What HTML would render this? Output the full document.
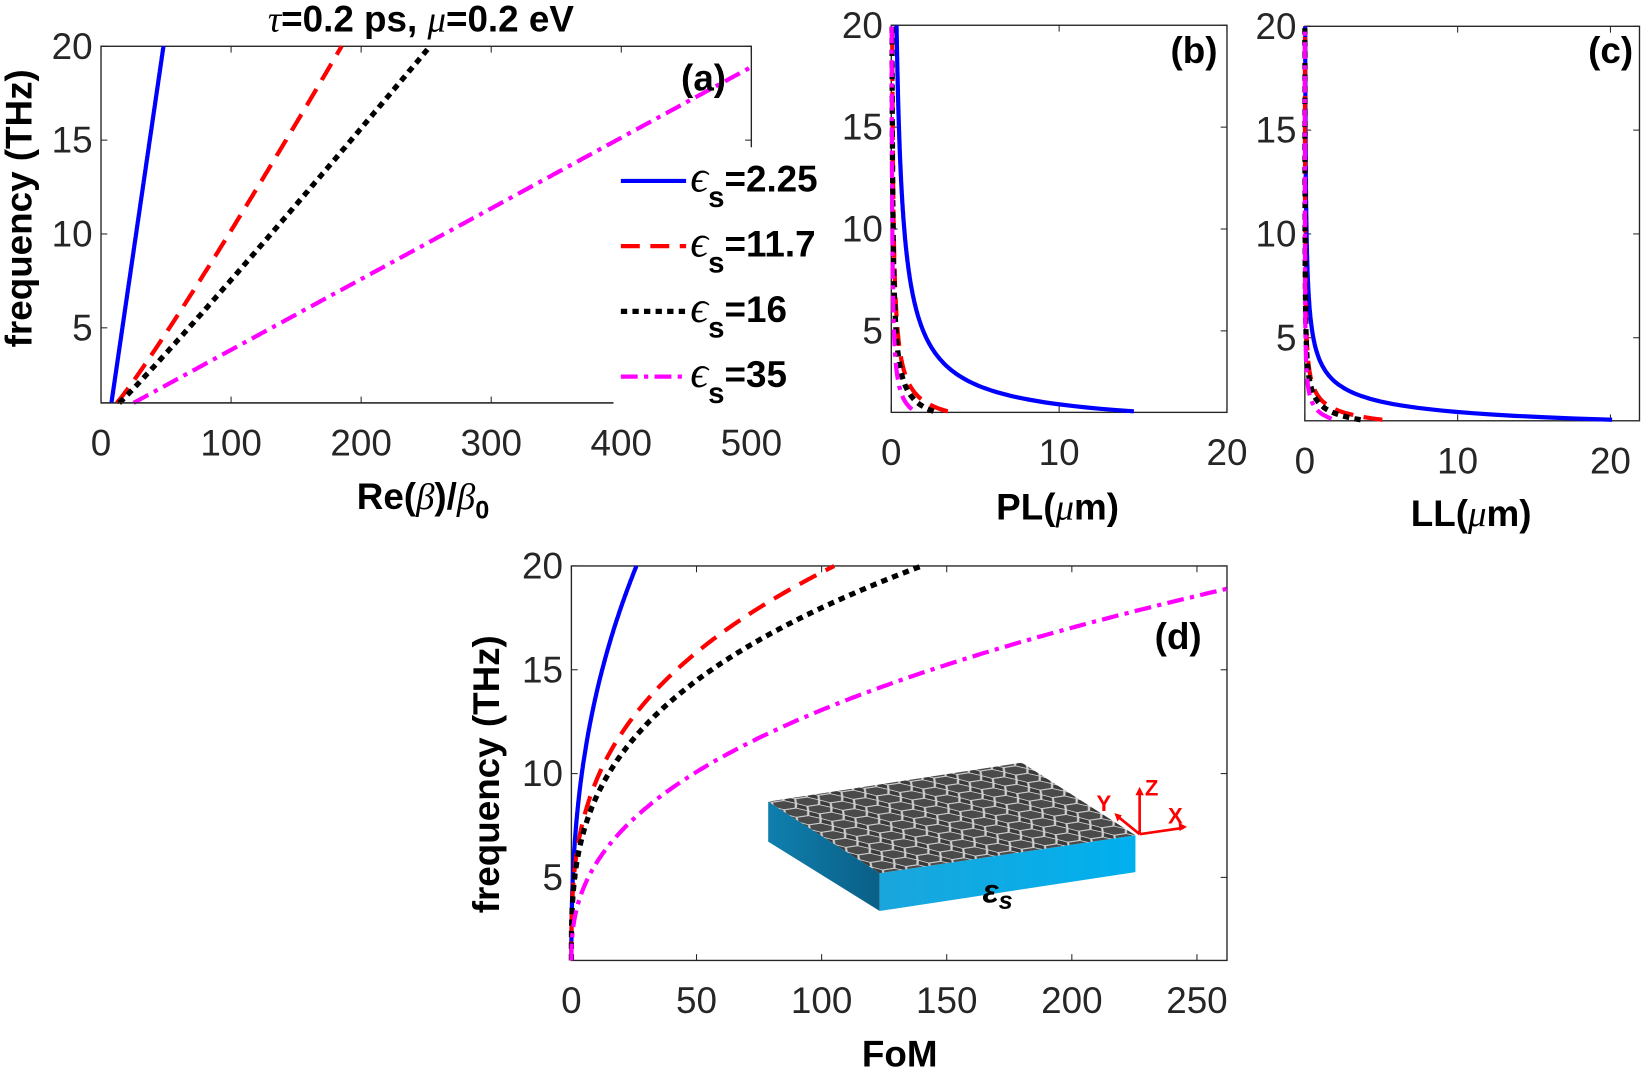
<!DOCTYPE html>
<html><head><meta charset="utf-8"><style>
html,body{margin:0;padding:0;background:#fff;}
svg{display:block;}
text{font-family:"Liberation Sans",Arial,sans-serif;}
.t{font-size:35px;fill:#262626;}
.b{font-size:35px;font-weight:bold;fill:#000;}
</style></head><body>
<svg id="s" width="1650" height="1073" viewBox="0 0 1568 1020" preserveAspectRatio="none" xmlns="http://www.w3.org/2000/svg">
<defs>
<pattern id="hex" width="22" height="13" patternUnits="userSpaceOnUse" patternTransform="matrix(1,-0.15,0.9,0.55,0,0)">
<rect width="22" height="13" fill="#3a3a3a"/>
<path d="M0 6.5 L5 0 L16 0 L22 6.5 L16 13 L5 13 Z" fill="#4a4a4a" stroke="#d0d0d0" stroke-width="1.6"/>
</pattern>
<linearGradient id="fr" x1="0" y1="0" x2="1" y2="0"><stop offset="0" stop-color="#1aa6dc"/><stop offset="1" stop-color="#00b0ee"/></linearGradient>
<linearGradient id="lf" x1="0" y1="0" x2="1" y2="0"><stop offset="0" stop-color="#0f7fae"/><stop offset="1" stop-color="#0a5f86"/></linearGradient>
</defs>
<g id="g"></g>
</svg>
<script>
var g=document.getElementById('g'),NS='http://www.w3.org/2000/svg';
function el(t,a,txt){var e=document.createElementNS(NS,t);for(var k in a)e.setAttribute(k,a[k]);if(txt!==undefined)e.textContent=txt;g.appendChild(e);return e;}
var ST={b:{stroke:'#0000ff'},r:{stroke:'#ff0000','stroke-dasharray':'18 10'},k:{stroke:'#000','stroke-dasharray':'6 5','stroke-width':5},m:{stroke:'#ff00ff','stroke-dasharray':'16 6 4 6'}};
function axes(L,T,R,B,xl,xr,xt,yt,ylabels){
  var o={};o.X=function(v){return L+(v-xl)/(xr-xl)*(R-L);};o.Y=function(f){return B-(f-1)/19*(B-T);};
  el('rect',{x:L,y:T,width:R-L,height:B-T,fill:'none',stroke:'#262626','stroke-width':1.3});
  xt.forEach(function(v){var x=o.X(v);el('line',{x1:x,y1:B,x2:x,y2:B-6,stroke:'#262626'});el('line',{x1:x,y1:T,x2:x,y2:T+6,stroke:'#262626'});el('text',{x:x,y:B+50,'text-anchor':'middle',class:'t'},v);});
  [5,10,15,20].forEach(function(v){var y=o.Y(v);el('line',{x1:L,y1:y,x2:L+6,y2:y,stroke:'#262626'});el('line',{x1:R,y1:y,x2:R-6,y2:y,stroke:'#262626'});if(ylabels)el('text',{x:L-8,y:y+12,'text-anchor':'end',class:'t'},v);});
  return o;}
function curve(o,fn,f0,f1,s){var d='';for(var i=0;i<=300;i++){var f=f0+(f1-f0)*i/300;var x=o.X(fn(f)),y=o.Y(f);d+=(i?'L':'M')+x.toFixed(1)+' '+y.toFixed(1);}
  var a={d:d,fill:'none','stroke-width':4};for(var k in ST[s])a[k]=ST[s][k];el('path',a);}
// (a)
var A=axes(96,44,714,383,0,500,[0,100,200,300,400,500],1,1);
curve(A,function(f){return 8+40*(f-1)/19;},1,20,'b');
curve(A,function(f){var t=(f-1)/19;return 12+173*Math.pow(t,0.93);},1,20,'r');
curve(A,function(f){var t=(f-1)/19;return 14+239*Math.pow(t,0.96);},1,20,'k');
curve(A,function(f){return 25+475*(f-1)/17.9;},1,18.9,'m');
el('rect',{x:583,y:140,width:212,height:252,fill:'#fff'});
el('line',{x1:96,y1:383,x2:583,y2:383,stroke:'#262626','stroke-width':1.3});
el('text',{x:400,y:30,'text-anchor':'middle',class:'b','font-size':'36'},'').innerHTML='<tspan font-style="italic" font-weight="normal" font-family="Liberation Serif">τ</tspan>=0.2 ps, <tspan font-style="italic" font-weight="normal" font-family="Liberation Serif">μ</tspan>=0.2 eV';
el('text',{x:690,y:86,'text-anchor':'end',class:'b'},'(a)');
el('text',{x:402,y:484,'text-anchor':'middle',class:'b'},'').innerHTML='Re(<tspan font-style="italic" font-weight="normal" font-family="Liberation Serif">β</tspan>)/<tspan font-style="italic" font-weight="normal" font-family="Liberation Serif">β</tspan><tspan font-size="24" dy="9">0</tspan>';
el('text',{x:0,y:0,class:'b','font-size':'39',transform:'translate(30,198) rotate(-90)','text-anchor':'middle'},'frequency (THz)');
[['b','2.25',172],['r','11.7',234],['k','16',296],['m','35',358]].forEach(function(e){
  var y=e[2];var a={x1:590,y1:y,x2:652,y2:y,'stroke-width':4};for(var k in ST[e[0]])a[k]=ST[e[0]][k];el('line',a);
  el('text',{x:656,y:y+10,class:'b'},'').innerHTML='<tspan font-family="Liberation Serif" font-style="italic" font-weight="normal" font-size="42">ϵ</tspan><tspan font-size="28" dy="15">s</tspan><tspan dy="-15">='+e[1]+'</tspan>';});
// (b)
var Bx=axes(847,24,1166,392,0,20,[0,10,20],1,1);
curve(Bx,function(f){return 15.4*Math.pow(f,-1.3);},1.05,20,'b');
curve(Bx,function(f){return 3.6*Math.pow(f,-1.4);},1.05,20,'r');
curve(Bx,function(f){return 2.7*Math.pow(f,-1.4);},1.05,20,'k');
curve(Bx,function(f){return 1.5*Math.pow(f,-1.4);},1.15,20,'m');
el('text',{x:1157,y:60,'text-anchor':'end',class:'b'},'(b)');
el('text',{x:1005,y:494,'text-anchor':'middle',class:'b'},'').innerHTML='PL(<tspan font-style="italic" font-weight="normal" font-family="Liberation Serif">μ</tspan>m)';
// (c)
var C=axes(1240,25,1558,400,0,21.9,[0,10,20],1,1);
curve(C,function(f){return 22.5*Math.pow(f,-2.3);},1.05,20,'b');
curve(C,function(f){return 5.7*Math.pow(f,-2.4);},1.05,20,'r');
curve(C,function(f){return 4.1*Math.pow(f,-2.4);},1.05,20,'k');
curve(C,function(f){return 2.2*Math.pow(f,-2.4);},1.1,20,'m');
el('text',{x:1552,y:60,'text-anchor':'end',class:'b'},'(c)');
el('text',{x:1398,y:500,'text-anchor':'middle',class:'b'},'').innerHTML='LL(<tspan font-style="italic" font-weight="normal" font-family="Liberation Serif">μ</tspan>m)';
// (d)
var D=axes(543,538,1166,913,0,262,[0,50,100,150,200,250],1,1);
curve(D,function(f){return 26*Math.pow((f-1)/19,2.45);},1,20,'b');
curve(D,function(f){return 105*Math.pow((f-1)/19,3.0);},1,20,'r');
curve(D,function(f){return 140*Math.pow((f-1)/19,3.0);},1,20,'k');
curve(D,function(f){return 262*Math.pow((f-1)/17.9,2.44);},1,18.9,'m');
el('text',{x:1142,y:617,'text-anchor':'end',class:'b'},'(d)');
el('text',{x:855,y:1014,'text-anchor':'middle',class:'b'},'FoM');
el('text',{x:0,y:0,class:'b','font-size':'37',transform:'translate(474,736) rotate(-90)','text-anchor':'middle'},'frequency (THz)');
// inset
el('polygon',{points:'730,762 836,830 836,866 730,800',fill:'url(#lf)'});
el('polygon',{points:'836,830 1079,794 1079,829 836,866',fill:'url(#fr)'});
el('polygon',{points:'730,762 971,725 1079,794 836,830',fill:'url(#hex)'});
el('text',{x:948,y:858,'text-anchor':'middle','font-size':'32','font-style':'italic','font-weight':'bold','font-family':'Liberation Serif',fill:'#000'},'').innerHTML='ε<tspan font-size="24" dy="6">s</tspan>';
el('path',{d:'M1083 793 L1083 752 M1083 793 L1124 787 M1083 793 L1062 776',stroke:'#ff0000','stroke-width':2.5,fill:'none'});
el('path',{d:'M1083 748 l-4 8 l8 0z M1128 786 l-8 -4 l1 8z M1059 773 l3 8 l4 -6z',fill:'#ff0000'});
el('text',{x:1088,y:756,'font-size':'21','font-weight':'bold',fill:'#f00'},'Z');
el('text',{x:1110,y:783,'font-size':'21','font-weight':'bold',fill:'#f00'},'X');
el('text',{x:1042,y:771,'font-size':'21','font-weight':'bold',fill:'#f00'},'Y');
</script>
</body></html>
